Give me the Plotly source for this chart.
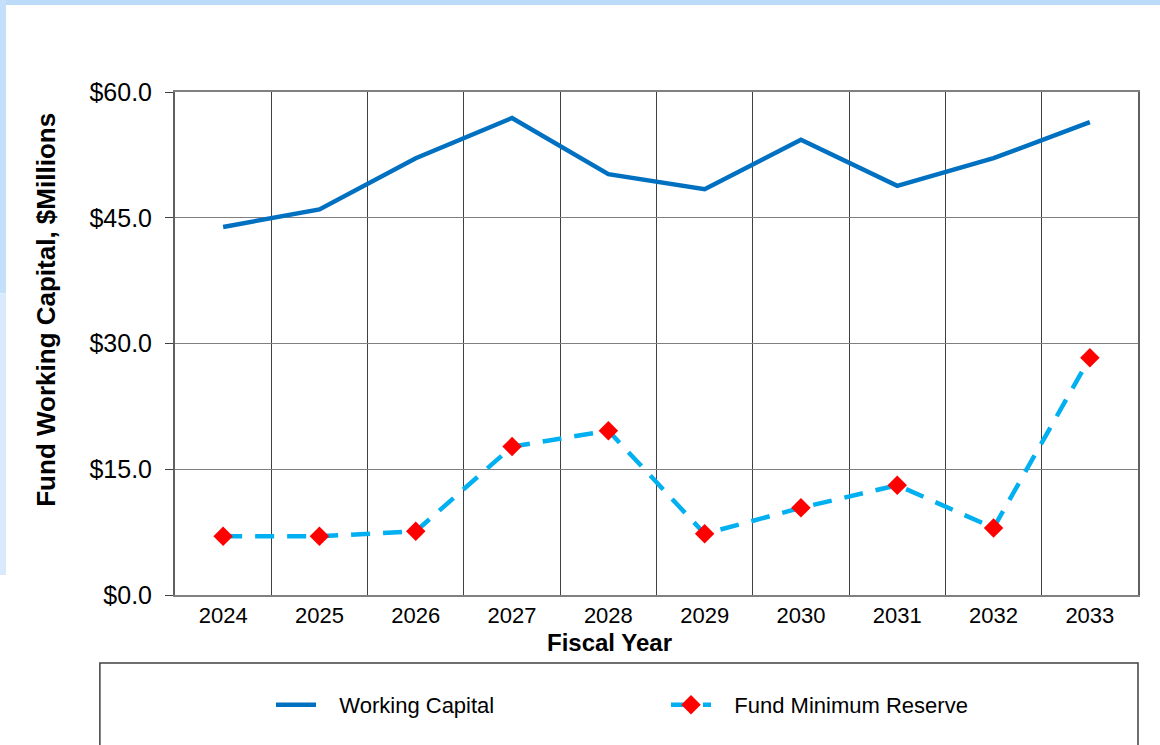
import plotly.graph_objects as go

# Données ($ millions)
years = ['2024', '2025', '2026', '2027', '2028', '2029', '2030', '2031', '2032', '2033']
working_capital = [43.9, 46.0, 52.1, 56.9, 50.2, 48.4, 54.3, 48.8, 52.1, 56.4]
min_reserve = [7.0, 7.0, 7.6, 17.7, 19.6, 7.3, 10.4, 13.1, 8.0, 28.3]
y_ticks = [0, 15, 30, 45, 60]
y_tick_labels = ['$0.0', '$15.0', '$30.0', '$45.0', '$60.0']

FONT = 'Liberation Sans, Arial, sans-serif'
PAD = '\u00a0\u00a0\u00a0'  # petit espace entre le symbole et le texte de la légende

fig = go.Figure()

fig.add_trace(go.Scatter(
    x=years, y=working_capital, name=PAD + 'Working Capital',
    mode='lines', line=dict(color='#0070C0', width=4.5),
))
fig.add_trace(go.Scatter(
    x=years, y=min_reserve, name=PAD + 'Fund Minimum Reserve',
    mode='lines+markers',
    line=dict(color='#00B0F0', width=4.5, dash='19px,13px'),
    marker=dict(symbol='diamond', color='#FF0000', size=15),
))

# cadre de la légende (à la Excel) + bandes bleues du fond
shapes = [
    dict(type='rect', xref='paper', yref='paper',
         x0=-0.078, x1=1.0, y0=-0.33, y1=-0.135,
         line=dict(color='#404040', width=1.5), fillcolor='white', layer='below'),
    dict(type='rect', xref='paper', yref='paper',
         x0=-0.19, x1=1.03, y0=1.173, y1=1.19,
         line=dict(width=0), fillcolor='#BCDBF8', layer='below'),
    dict(type='rect', xref='paper', yref='paper',
         x0=-0.19, x1=-0.1755, y0=0.6, y1=1.19,
         line=dict(width=0), fillcolor='#C4DFF9', layer='below'),
    dict(type='rect', xref='paper', yref='paper',
         x0=-0.19, x1=-0.1755, y0=0.04, y1=0.6,
         line=dict(width=0), fillcolor='#D8EAFB', layer='below'),
]

# titres des axes placés comme sur l'original (pas centrés sur la zone de tracé)
annotations = [
    dict(text='<b>Fund Working Capital, $Millions</b>', textangle=-90,
         xref='paper', yref='paper', x=-0.134, y=0.567,
         xanchor='center', yanchor='middle', showarrow=False,
         font=dict(size=26, family=FONT, color='#000000')),
    dict(text='<b>Fiscal Year</b>',
         xref='paper', yref='paper', x=0.4517, y=-0.0954,
         xanchor='center', yanchor='middle', showarrow=False,
         font=dict(size=24, family=FONT, color='#000000')),
]

fig.update_layout(
    width=1160, height=745,
    margin=dict(l=175, r=22, t=92, b=150),
    paper_bgcolor='white', plot_bgcolor='white',
    font=dict(family=FONT, color='#000000', size=22),
    showlegend=True,
    legend=dict(
        orientation='h', x=0.0997, y=-0.2187, xanchor='left', yanchor='middle',
        font=dict(size=22, family=FONT), entrywidth=340, entrywidthmode='pixels',
        bgcolor='rgba(0,0,0,0)', itemwidth=40,
    ),
    shapes=shapes,
    annotations=annotations,
    xaxis=dict(
        type='category', tickson='boundaries', range=[-0.5, 9.5],
        showgrid=True, gridcolor='#404040', gridwidth=1,
        showline=True, linecolor='#808080', linewidth=2, mirror=True,
        ticks='', tickfont=dict(size=22),
        fixedrange=True,
    ),
    yaxis=dict(
        range=[0, 60], tickvals=y_ticks, ticktext=y_tick_labels,
        showgrid=True, gridcolor='#808080', gridwidth=1,
        showline=True, linecolor='#606060', linewidth=2, mirror=True,
        ticks='outside', ticklen=8, tickcolor='#404040',
        tickfont=dict(size=25), zeroline=False, ticklabelstandoff=8,
        fixedrange=True,
    ),
)

# pas de marge autour de la page, pour que le graphique occupe toute la fenêtre
fig.write_html("out.html", config={'displayModeBar': False},
               post_script="document.body.style.margin='0';")
